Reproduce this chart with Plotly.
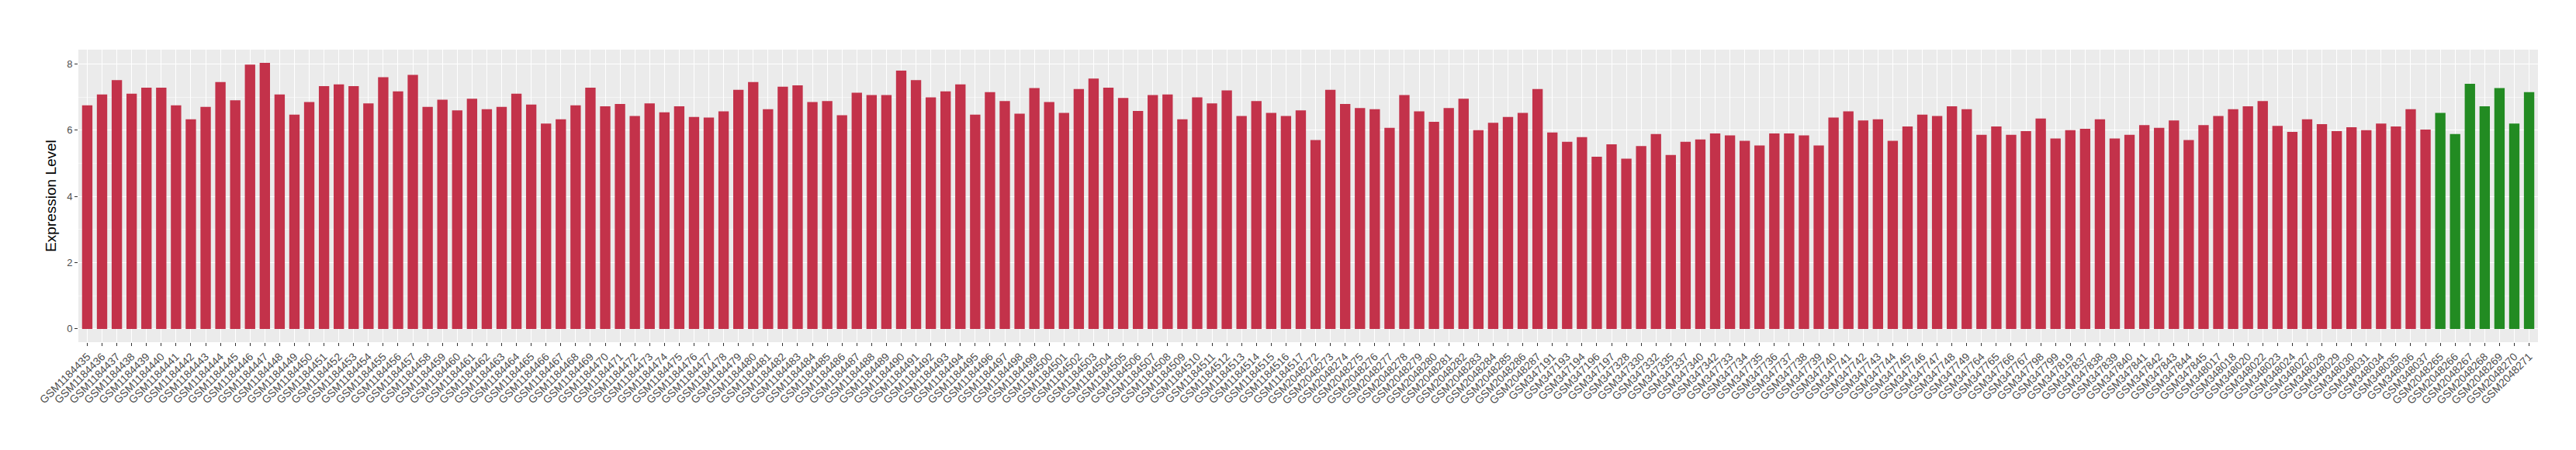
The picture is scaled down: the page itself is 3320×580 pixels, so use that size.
import plotly.graph_objects as go

samples_a = [f"GSM{n}" for n in range(1184435, 1184518)]
samples_b = [f"GSM{n}" for n in range(2048272, 2048288)]
samples_c = ["GSM347191", "GSM347193", "GSM347194", "GSM347196", "GSM347197", "GSM347328",
             "GSM347330", "GSM347332", "GSM347335", "GSM347337", "GSM347340", "GSM347342"]
samples_d = [f"GSM{n}" for n in range(347733, 347750)]
samples_e = ["GSM347764", "GSM347765", "GSM347766", "GSM347767", "GSM347798", "GSM347799",
             "GSM347819", "GSM347837", "GSM347838", "GSM347839", "GSM347840", "GSM347841",
             "GSM347842", "GSM347843", "GSM347844", "GSM347845"]
samples_f = ["GSM348017", "GSM348018", "GSM348020", "GSM348022", "GSM348023", "GSM348024",
             "GSM348027", "GSM348028", "GSM348029", "GSM348030", "GSM348031", "GSM348034",
             "GSM348035", "GSM348036", "GSM348037"]
samples_green = [f"GSM{n}" for n in range(2048265, 2048272)]

values_a = [6.75, 7.08, 7.51, 7.10, 7.28, 7.28, 6.75, 6.33, 6.70, 7.45,
            6.90, 7.98, 8.03, 7.08, 6.47, 6.85, 7.33, 7.38, 7.33, 6.81,
            7.60, 7.17, 7.67, 6.70, 6.92, 6.60, 6.95, 6.63, 6.70, 7.10,
            6.77, 6.20, 6.33, 6.75, 7.28, 6.72, 6.79, 6.43, 6.81, 6.54,
            6.72, 6.40, 6.38, 6.57, 7.22, 7.45, 6.63, 7.31, 7.35, 6.85,
            6.88, 6.45, 7.13, 7.06, 7.06, 7.80, 7.51, 6.99, 7.17, 7.38,
            6.47, 7.15, 6.88, 6.50, 7.27, 6.85, 6.52, 7.24, 7.56, 7.28,
            6.97, 6.58, 7.06, 7.08, 6.33, 6.99, 6.81, 7.20, 6.43, 6.88,
            6.52, 6.43, 6.60]
values_b = [5.70, 7.22, 6.79, 6.67, 6.63, 6.07, 7.06, 6.57, 6.25, 6.67,
            6.95, 6.00, 6.22, 6.40, 6.52, 7.24]
values_c = [5.93, 5.65, 5.79, 5.20, 5.57, 5.14, 5.52, 5.88, 5.25, 5.65, 5.72, 5.90]
values_d = [5.84, 5.68, 5.54, 5.90, 5.90, 5.84, 5.54, 6.38, 6.57, 6.29,
            6.33, 5.68, 6.11, 6.47, 6.43, 6.72, 6.63]
values_e = [5.86, 6.11, 5.86, 5.97, 6.35, 5.75, 6.00, 6.04, 6.33, 5.75,
            5.86, 6.15, 6.07, 6.29, 5.70, 6.15]
values_f = [6.43, 6.63, 6.72, 6.88, 6.13, 5.95, 6.33, 6.18, 5.97, 6.09,
            6.00, 6.20, 6.11, 6.63, 6.02]
values_green = [6.52, 5.88, 7.40, 6.72, 7.27, 6.20, 7.15]

red_samples = samples_a + samples_b + samples_c + samples_d + samples_e + samples_f
red_values = values_a + values_b + values_c + values_d + values_e + values_f
all_samples = red_samples + samples_green

RED = "#C3324A"
GREEN = "#228B22"

fig = go.Figure()
fig.add_trace(go.Bar(x=red_samples, y=red_values, marker=dict(color=RED, line=dict(width=0)),
                     width=0.7, showlegend=False))
fig.add_trace(go.Bar(x=samples_green, y=values_green, marker=dict(color=GREEN, line=dict(width=0)),
                     width=0.7, showlegend=False))

fig.update_layout(
    width=3320, height=580,
    margin=dict(l=93, r=57, t=56, b=147, autoexpand=False),
    paper_bgcolor="white",
    plot_bgcolor="#EBEBEB",
    font=dict(family="Liberation Sans, Arial, sans-serif", color="#4D4D4D"),
    bargap=0.3,
    showlegend=False,
)
fig.update_xaxes(
    type="category",
    categoryorder="array", categoryarray=all_samples,
    range=[-0.6, len(all_samples) - 0.4],
    tickangle=-45,
    tickfont=dict(size=14, color="#4D4D4D"),
    ticks="outside", ticklen=4, tickcolor="#333333", tickwidth=1,
    showgrid=True, gridcolor="white", gridwidth=1.3,
    zeroline=False, showline=False, automargin=False,
)
fig.update_yaxes(
    range=[-0.40, 8.43],
    tickvals=[0, 2, 4, 6, 8],
    tickfont=dict(size=13, color="#4D4D4D"),
    ticks="outside", ticklen=4, tickcolor="#333333", tickwidth=1,
    showgrid=True, gridcolor="white", gridwidth=1.3,
    minor=dict(tickvals=[1, 3, 5, 7], showgrid=True, gridcolor="#F5F5F5", gridwidth=0.7, ticks=""),
    zeroline=False, showline=False, automargin=False,
    title=dict(text="Expression Level", font=dict(size=19, color="black"), standoff=8),
)

fig.write_html("out.html")
